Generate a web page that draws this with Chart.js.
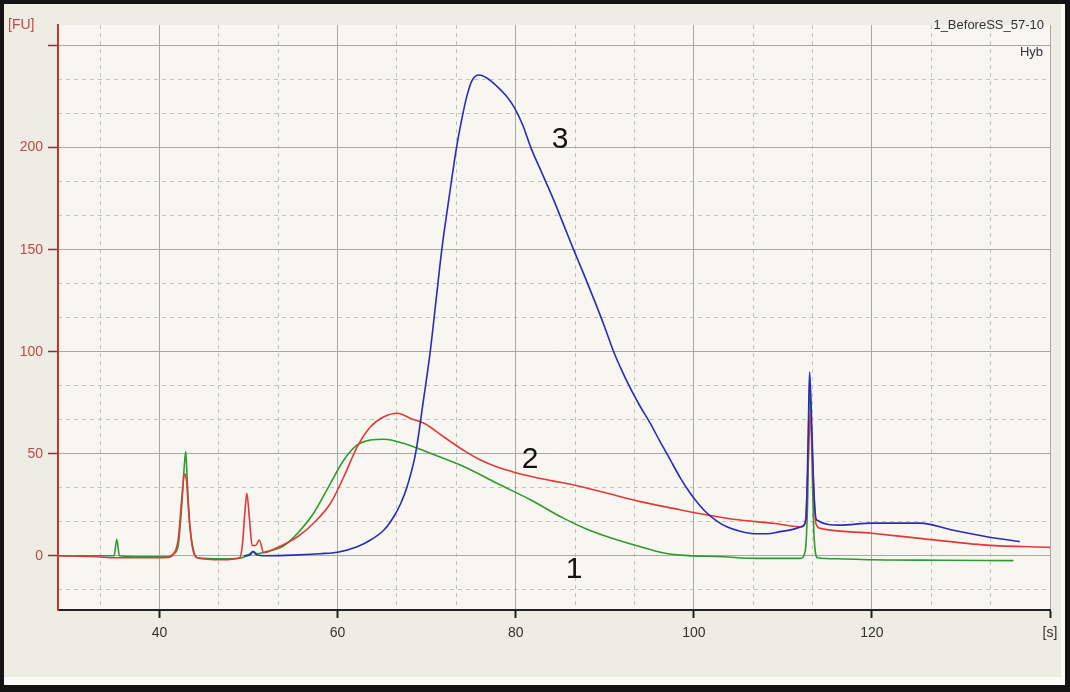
<!DOCTYPE html>
<html>
<head>
<meta charset="utf-8">
<title>1_BeforeSS_57-10 Hyb</title>
<script src="https://cdn.jsdelivr.net/npm/chart.js@4.4.1/dist/chart.umd.min.js"></script>
<style>
  html, body { margin: 0; padding: 0; background: #eeede3; }
  #frame { position: relative; width: 1070px; height: 692px; background: #eeede3; overflow: hidden; }
  #chart { position: absolute; left: 0; top: 0; }
  #edge {
    position: absolute; left: 0; top: 0; right: 0; bottom: 0; box-sizing: border-box;
    border-style: solid; border-color: #141414; border-width: 4px 5px 7px 4px;
    box-shadow: inset -4px -8px 0 #fafaf6; pointer-events: none;
  }
  .note { position: absolute; font-family: "Liberation Sans", Arial, sans-serif; line-height: 1; white-space: nowrap; }
  .peak { font-size: 30px; color: #111; transform: translate(-50%, -50%); }
  .info { font-size: 13px; color: #333; transform: translate(-100%, -50%); }
  .unit { font-size: 14px; color: #c04848; transform: translate(0, -50%); }
</style>
</head>
<body>
<div id="frame">
  <canvas id="chart" width="1070" height="692"></canvas>
  <div class="note unit" style="left:8px; top:24px;">[FU]</div>
  <div class="note info" style="left:1044px; top:24px;">1_BeforeSS_57-10</div>
  <div class="note info" style="left:1043px; top:51px;">Hyb</div>
  <div class="note peak" style="left:574px; top:568px;">1</div>
  <div class="note peak" style="left:530px; top:458px;">2</div>
  <div class="note peak" style="left:560px; top:138px;">3</div>
  <div id="edge"></div>
</div>
<script>
// axis ranges and labelled ticks
const X_MIN = 28.6, X_MAX = 140;
const Y_MIN = -26.6, Y_MAX = 260.1;
const X_TICKS = [40, 60, 80, 100, 120, 140];
const Y_TICKS = [0, 50, 100, 150, 200, 250];

// trace 1 (green)
const greenTime = [28.6, 33, 34.9, 35.2, 35.5, 38, 41, 41.6, 42.1, 42.5, 42.8, 42.95, 43.1, 43.4, 43.8, 44.3,
  47, 49, 50, 50.5, 51, 52, 54, 55.5, 57.3, 59.2, 60.7, 62.2, 63.7, 65.2, 67.4, 70.4, 74.2, 77.9, 81.7,
  85.4, 88, 90.3, 94, 96.5, 98.5, 103.3, 107.1, 112, 112.5, 112.8, 113, 113.2, 113.5, 113.9, 116, 120, 128, 135.9];
const greenFU = [0, 0, 0, 8, 0, -0.5, -0.5, 1, 5, 25, 45, 51, 38, 15, 3, -1,
  -1.5, -1.2, 0.5, 2, 1, 2, 5, 11, 20.8, 35.5, 46.9, 54.3, 56.7, 57.1, 55.1, 50.2, 43.6, 35.5, 27.3,
  18.3, 13, 9.3, 4.4, 1.5, 0.3, -0.5, -1.3, -1.3, 2, 30, 88, 60, 10, -1, -1.5, -2, -2.2, -2.4];

// trace 2 (red)
const redTime = [28.6, 33, 35, 38, 41, 41.6, 42.1, 42.5, 42.8, 43, 43.3, 43.7, 44.2, 47, 49, 49.3, 49.6, 49.8,
  50.1, 50.4, 50.8, 51.2, 51.7, 53, 55.5, 57.3, 59.2, 60.7, 62.2, 63.7, 65.2, 66.7, 68.2, 69.7, 71.9, 74.2,
  76, 78, 80, 82, 84, 86.5, 90.3, 94, 97.7, 101.5, 105.2, 108.9, 111.9, 112.5, 112.8, 113.1, 113.4, 113.7, 114.2,
  120, 125.4, 132.9, 140];
const redFU = [0, -0.5, -1, -1, -0.8, 1, 8, 28, 40, 38, 20, 4, -1, -2, -1, 5, 22, 30.6,
  18, 5, 5, 7.7, 1.5, 3.5, 9.3, 15.9, 25.7, 38.7, 53.4, 63.2, 68.1, 69.8, 67.3, 64.9, 58.3, 51.5,
  47, 43.3, 40.7, 38.6, 36.8, 34.7, 30.6, 26.5, 23.2, 20, 17.5, 15.9, 14.2, 16, 40, 70, 40, 16, 13.4,
  11, 8.5, 5.2, 4.1];

// trace 3 (blue)
const blueTime = [49.5, 50.2, 50.5, 50.9, 52, 55, 58, 60, 62.2, 63.7, 65.2, 66.3, 67.1, 67.8, 68.75, 69.6, 70.4,
  71.05, 71.7, 72.5, 73.35, 73.9, 74.5, 75.1, 75.9, 76.8, 77.9, 78.9, 79.8, 80.8, 81.7, 82.9, 84.2, 85.4, 86.5,
  87.6, 88.8, 90, 91, 92, 93, 94, 95.1, 96.2, 97.3, 98.5, 99.6, 100.6, 101.5, 102.6, 103.7, 105.2, 106.7,
  108.2, 109.7, 111, 112.1, 112.6, 112.85, 113, 113.2, 113.5, 113.8, 116.4, 120, 125.4, 129, 132.9, 136.6];
const blueFU = [0, 0.5, 2, 0.5, 0, 0.3, 1, 1.7, 4.4, 7.7, 12.6, 19.1, 25.7, 33.8, 50, 75, 100,
  125, 150, 175, 200, 213, 225, 233, 235.6, 234, 230, 225.5, 220, 211, 200, 188, 175, 162, 150,
  138.5, 125.5, 112, 100, 90, 81, 73, 65, 56, 47.5, 38, 30.6, 25, 20.8, 17, 14.2, 12, 10.8,
  10.8, 11.8, 12.8, 14.2, 18, 60, 90, 70, 30, 17.5, 15, 16, 16, 12.6, 9.3, 6.9];

function toPoints(xs, ys) {
  return xs.map((x, i) => ({ x: x, y: ys[i] }));
}

function trace(label, xs, ys, color) {
  return {
    label: label,
    data: toPoints(xs, ys),
    borderColor: color,
    borderWidth: 1.6,
    pointRadius: 0,
    cubicInterpolationMode: "monotone",
    xAxisID: "x",
    yAxisID: "y"
  };
}

// every third minor step that falls on a labelled line is left to the solid grid
function isMajor(v, step) {
  return Math.abs(v / step - Math.round(v / step)) < 1e-6;
}

function minorTicks(from, to, step) {
  const out = [];
  for (let v = from; v <= to + 1e-9; v += step) out.push({ value: v });
  return out;
}

const plotBackground = {
  id: "plotBackground",
  beforeDraw(chart) {
    const a = chart.chartArea;
    const c = chart.ctx;
    c.save();
    c.fillStyle = "#f7f6f0";
    c.fillRect(a.left, a.top, a.right - a.left, a.bottom - a.top);
    c.restore();
  }
};

const font = { family: "'Liberation Sans', Arial, sans-serif", size: 14 };

new Chart(document.getElementById("chart"), {
  type: "line",
  data: {
    datasets: [
      trace("3", blueTime, blueFU, "#2b2bb8"),
      trace("2", redTime, redFU, "#e0393a"),
      trace("1", greenTime, greenFU, "#2f9a30")
    ]
  },
  options: {
    responsive: false,
    animation: false,
    layout: { padding: { top: 25, right: 20, left: 0, bottom: 0 } },
    plugins: { legend: { display: false }, tooltip: { enabled: false } },
    scales: {
      xMinor: {
        type: "linear", position: "bottom", min: X_MIN, max: X_MAX,
        afterBuildTicks: s => { s.ticks = minorTicks(100 / 3, 140, 20 / 3); },
        afterFit: s => { s.height = 0; },
        ticks: { display: false },
        grid: { drawTicks: false, lineWidth: 1,
          color: c => isMajor(c.tick.value, 20) ? "rgba(0,0,0,0)" : "#c4c4bd" },
        border: { display: false, dash: [4, 4] }
      },
      yMinor: {
        type: "linear", position: "left", min: Y_MIN, max: Y_MAX,
        afterBuildTicks: s => { s.ticks = minorTicks(-50 / 3, 260, 50 / 3); },
        afterFit: s => { s.width = 0; },
        ticks: { display: false },
        grid: { drawTicks: false, lineWidth: 1,
          color: c => isMajor(c.tick.value, 50) ? "rgba(0,0,0,0)" : "#c4c4bd" },
        border: { display: false, dash: [4, 4] }
      },
      x: {
        type: "linear", position: "bottom", min: X_MIN, max: X_MAX,
        afterBuildTicks: s => { s.ticks = X_TICKS.map(v => ({ value: v })); },
        afterFit: s => { s.height = 82; },
        ticks: {
          font: font, color: "#333", padding: 7, maxRotation: 0,
          callback: v => v === 140 ? "[s]" : String(v)
        },
        grid: { color: "#a9a9a4", lineWidth: 1, tickLength: 8, tickColor: "#222", tickWidth: 2 },
        border: { color: "#222", width: 2 }
      },
      y: {
        type: "linear", position: "left", min: Y_MIN, max: Y_MAX,
        afterBuildTicks: s => { s.ticks = Y_TICKS.map(v => ({ value: v })); },
        afterFit: s => { s.width = 58; },
        ticks: {
          font: font, color: "#c04848", padding: 5,
          callback: v => v === 250 ? "" : String(v)
        },
        grid: { color: "#a9a9a4", lineWidth: 1, tickLength: 10, tickColor: "#7a3a3a", tickWidth: 1.5 },
        border: { color: "#c83232", width: 2 }
      }
    }
  },
  plugins: [plotBackground]
});
</script>
</body>
</html>
